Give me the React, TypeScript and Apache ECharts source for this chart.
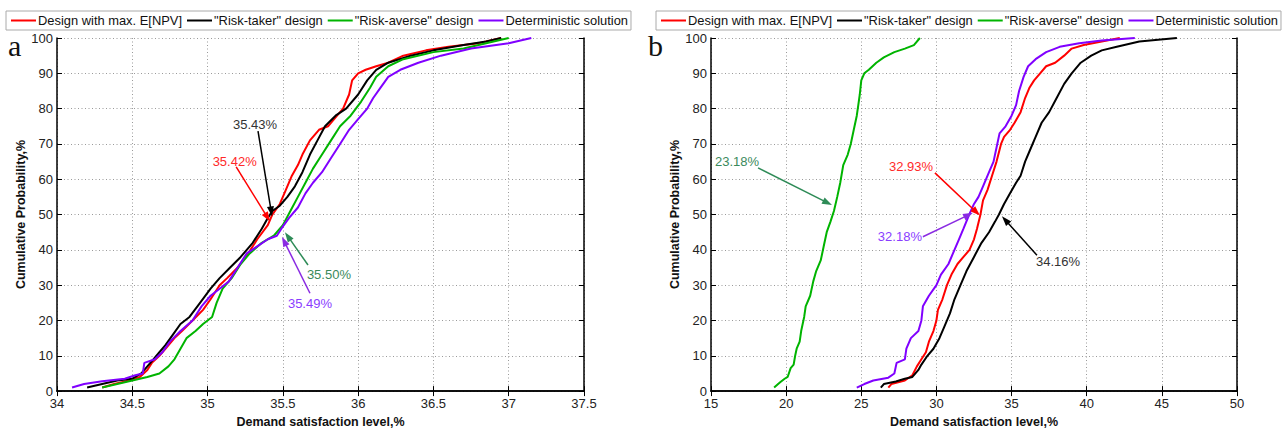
import React, { useEffect, useRef } from 'react';
import * as echarts from 'echarts';

const seriesNames = ['Design with max. E[NPV]', '"Risk-taker" design', '"Risk-averse" design', 'Deterministic solution'];
const seriesColors = ['#ff0000', '#000000', '#00b400', '#8000ff'];

const aXAxis = { min: 34, max: 37.5, interval: 0.5 };
const bXAxis = { min: 15, max: 50, interval: 5 };
const probAxis = { min: 0, max: 100, interval: 10 };

// Panel a: [demand satisfaction level %, cumulative probability %]
const aMaxNpv = [[34.3,1],[34.38,2],[34.48,3],[34.55,4],[34.6,6],[34.63,8],[34.68,10],[34.72,12],[34.78,15],[34.83,17],[34.9,20],[34.97,23],[35.02,26],[35.08,30],[35.13,32],[35.2,35],[35.27,39],[35.33,43],[35.4,47],[35.43,50],[35.48,53],[35.52,57],[35.56,61],[35.6,64],[35.63,67],[35.68,71],[35.74,74],[35.8,75],[35.86,78],[35.9,80],[35.94,84],[35.96,88],[36.0,90],[36.05,91],[36.12,92],[36.2,93],[36.3,95],[36.45,96.5],[36.6,97.5],[36.8,98.5],[36.95,100]];
const aRiskTaker = [[34.2,1],[34.3,2],[34.4,3],[34.5,3.5],[34.56,5],[34.6,7],[34.64,9],[34.68,11],[34.72,13],[34.77,16],[34.82,19],[34.88,21],[34.95,25],[35.02,29],[35.08,32],[35.15,35],[35.22,38],[35.3,42],[35.36,46],[35.4,49],[35.43,51],[35.48,52.5],[35.53,55],[35.58,58],[35.63,62],[35.68,67],[35.73,71],[35.78,75],[35.85,78],[35.92,80],[36.0,84],[36.06,88],[36.12,91],[36.2,93],[36.35,95],[36.5,96.5],[36.7,98],[36.85,99],[36.95,100]];
const aRiskAverse = [[34.3,1],[34.4,2],[34.5,3],[34.6,4],[34.68,5],[34.74,7],[34.78,9],[34.82,12],[34.86,15],[34.92,17],[34.97,19],[35.03,21],[35.06,25],[35.1,29],[35.16,32],[35.22,36],[35.28,39],[35.36,42],[35.44,44],[35.5,47],[35.55,51],[35.6,55],[35.65,59],[35.7,63],[35.76,67],[35.82,71],[35.88,75],[35.95,78],[36.02,82],[36.08,86],[36.12,89],[36.2,92],[36.3,94],[36.5,96],[36.7,97],[36.85,98.5],[37.0,100]];
const aDeterministic = [[34.1,1],[34.18,2],[34.3,2.8],[34.45,3.5],[34.52,4.5],[34.57,5],[34.58,8],[34.65,9],[34.7,11],[34.75,14],[34.82,17],[34.9,20],[34.96,24],[35.02,27],[35.08,29],[35.14,31],[35.2,35],[35.26,39],[35.33,41],[35.4,43],[35.46,44],[35.49,46],[35.54,49],[35.6,52],[35.65,56],[35.7,59],[35.76,62],[35.82,66],[35.88,70],[35.94,74],[36.0,77],[36.06,80],[36.1,83],[36.15,86],[36.2,89],[36.28,91],[36.4,93],[36.55,95],[36.75,97],[37.0,98.5],[37.15,100]];

// Panel b
const bMaxNpv = [[26.8,1],[27.0,2],[27.9,3],[28.4,4.5],[28.7,7],[29.0,9],[29.3,11],[29.5,14],[29.8,17],[30.0,20],[30.1,23],[30.4,26],[30.7,30],[31.0,33],[31.4,36],[31.8,38],[32.2,40],[32.5,43],[32.7,46],[32.93,50],[33.1,54],[33.4,57],[33.7,61],[34.0,65],[34.3,70],[34.5,72],[34.9,74],[35.2,76],[35.6,79],[35.9,83],[36.2,86],[36.5,88],[36.9,90],[37.3,92],[37.9,93],[38.5,95],[39.0,97],[39.8,98],[41.0,99],[42.2,100]];
const bRiskTaker = [[26.3,1],[26.5,2],[27.3,2.7],[27.9,3.5],[28.4,4],[28.8,6],[29.0,7.5],[29.4,10],[29.8,12],[30.2,15],[30.5,18],[30.9,22],[31.2,26],[31.6,30],[32.0,34],[32.5,38],[33.0,42],[33.5,45],[33.9,48],[34.16,50],[34.5,53],[34.9,56],[35.3,59],[35.6,61],[35.9,65],[36.2,68],[36.6,72],[37.0,76],[37.5,79],[38.0,83],[38.5,87],[39.0,90],[39.6,93],[40.3,95],[41.0,96.5],[42.0,97.5],[43.5,99],[46.0,100]];
const bRiskAverse = [[19.2,1],[19.6,2.5],[19.9,3.5],[20.1,4],[20.3,6.5],[20.5,7.5],[20.6,10],[20.7,12],[20.9,14],[21.0,17],[21.2,21],[21.3,24],[21.6,27],[21.8,31],[22.0,34],[22.3,37],[22.5,41],[22.7,45],[22.95,48],[23.18,51],[23.4,55],[23.6,59],[23.8,64],[24.1,67],[24.3,70],[24.5,74],[24.7,78],[24.8,81],[24.9,84],[25.0,88],[25.2,90],[25.5,91],[26.0,93],[26.5,94.5],[27.2,96],[27.9,97],[28.5,98],[28.9,100]];
const bDeterministic = [[24.7,1],[25.2,2],[25.8,3],[26.8,3.8],[27.2,5],[27.35,8],[27.9,9],[28.0,12],[28.3,15],[28.8,17],[29.0,20],[29.1,24],[29.5,27],[30.0,30],[30.3,33],[30.8,36],[31.2,40],[31.5,43],[31.8,46],[32.18,50],[32.5,53],[32.8,55],[33.1,58],[33.5,62],[33.8,65],[34.0,69],[34.2,73],[34.6,75],[35.0,78],[35.3,81],[35.5,85],[35.8,89],[36.1,92],[36.6,94],[37.3,96],[38.2,97.5],[39.5,98.5],[41.0,99.3],[43.2,100]];

const aSeries = [aMaxNpv, aRiskTaker, aRiskAverse, aDeterministic];
const bSeries = [bMaxNpv, bRiskTaker, bRiskAverse, bDeterministic];

// Annotations: text position, arrow start, arrow tip (data coordinates)
const aAnnotations = [
  { text: '35.43%', color: '#333333', arrow: '#000000', at: [35.315, 75.5], from: [35.335, 73.6], to: [35.428, 49.5] },
  { text: '35.42%', color: '#ff2a2a', arrow: '#ff0000', at: [35.18, 65.1], from: [35.19, 63.5], to: [35.415, 48] },
  { text: '35.50%', color: '#3a8a5c', arrow: '#2e8b57', at: [35.806, 33], from: [35.667, 35.7], to: [35.514, 45] },
  { text: '35.49%', color: '#8a3dff', arrow: '#8a2be2', at: [35.68, 24.7], from: [35.68, 27.7], to: [35.494, 43.7] },
];
const bAnnotations = [
  { text: '23.18%', color: '#3a8a5c', arrow: '#2e8b57', at: [16.73, 65.1], from: [18.13, 63.2], to: [23.05, 52.7] },
  { text: '32.93%', color: '#ff2a2a', arrow: '#ff0000', at: [28.31, 63.7], from: [29.9, 61.8], to: [32.9, 49.7] },
  { text: '32.18%', color: '#8a3dff', arrow: '#8a2be2', at: [27.57, 43.7], from: [29.1, 43.7], to: [32.43, 50.5] },
  { text: '34.16%', color: '#333333', arrow: '#000000', at: [38.09, 36.8], from: [36.69, 38.5], to: [34.36, 49.5] },
];

const FONT = '"Liberation Sans", Arial, Helvetica, sans-serif';

function xAxes(gridIndex: number, r: { min: number; max: number; interval: number }) {
  const common = {
    gridIndex, type: 'value', min: r.min, max: r.max, interval: r.interval,
    axisLine: { show: true, lineStyle: { color: '#000', width: 1.5 } },
    axisTick: { show: true, inside: true, length: 5, lineStyle: { color: '#000' } },
  };
  return [
    {
      ...common, position: 'bottom',
      name: 'Demand satisfaction level,%', nameLocation: 'middle', nameGap: 19,
      nameTextStyle: { fontFamily: FONT, fontSize: 12.5, fontWeight: 'bold', color: '#111' },
      axisLabel: { fontFamily: FONT, fontSize: 13, color: '#222', margin: 6 },
      splitLine: { show: true, lineStyle: { type: [1, 2.5], color: '#9a9a9a', width: 1 } },
    },
    { ...common, position: 'top', axisLabel: { show: false }, splitLine: { show: false } },
  ];
}

function yAxes(gridIndex: number) {
  const common = {
    gridIndex, type: 'value', min: probAxis.min, max: probAxis.max, interval: probAxis.interval,
    axisLine: { show: true, lineStyle: { color: '#000', width: 1.5 } },
    axisTick: { show: true, inside: true, length: 5, lineStyle: { color: '#000' } },
  };
  return [
    {
      ...common, position: 'left',
      name: 'Cumulative Probability,%', nameLocation: 'middle', nameGap: 29,
      nameTextStyle: { fontFamily: FONT, fontSize: 12.5, fontWeight: 'bold', color: '#111' },
      axisLabel: { fontFamily: FONT, fontSize: 13, color: '#222', margin: 4 },
      splitLine: { show: true, lineStyle: { type: [1, 2.5], color: '#9a9a9a', width: 1 } },
    },
    { ...common, position: 'right', axisLabel: { show: false }, splitLine: { show: false } },
  ];
}

function legend(left: number) {
  return {
    left, top: 11, width: 660, orient: 'horizontal', icon: 'rect', itemWidth: 25, itemHeight: 2, itemGap: 5,
    padding: [3, 3, 3, 5], borderColor: '#aaa', borderWidth: 1, backgroundColor: '#fff',
    textStyle: { fontFamily: FONT, fontSize: 12.9, color: '#111', padding: [0, 0, 0, -3] },
    data: seriesNames, selectedMode: false,
  };
}

export default function App() {
  const ref = useRef<HTMLDivElement>(null);
  useEffect(() => {
    document.body.style.margin = '0';
    if (!ref.current) return;
    const chart = echarts.init(ref.current, null, { renderer: 'svg' });
    const series: any[] = [];
    [aSeries, bSeries].forEach((group, gi) => {
      group.forEach((data, i) => {
        series.push({
          name: seriesNames[i], type: 'line', data, xAxisIndex: gi * 2, yAxisIndex: gi * 2,
          showSymbol: false, symbol: 'none', lineStyle: { width: 2, color: seriesColors[i] },
          itemStyle: { color: seriesColors[i] }, z: 3, silent: true,
        });
      });
    });
    chart.setOption({
      animation: false,
      backgroundColor: '#fff',
      grid: [
        { left: 57, top: 38, width: 527, height: 364, containLabel: false },
        { left: 711, top: 38, width: 526, height: 364, containLabel: false },
      ],
      legend: [legend(6), legend(656)],
      xAxis: [...xAxes(0, aXAxis), ...xAxes(1, bXAxis)],
      yAxis: [...yAxes(0), ...yAxes(1)],
      series,
    });

    const graphics: any[] = [
      { type: 'text', left: 8, top: 30, style: { text: 'a', fontFamily: '"Liberation Serif", "DejaVu Serif", serif', fontSize: 30, fill: '#111' } },
      { type: 'text', left: 648, top: 30, style: { text: 'b', fontFamily: '"Liberation Serif", "DejaVu Serif", serif', fontSize: 30, fill: '#111' } },
    ];
    [aAnnotations, bAnnotations].forEach((list, gi) => {
      list.forEach((a) => {
        const t = chart.convertToPixel({ gridIndex: gi } as any, a.at) as number[];
        const f = chart.convertToPixel({ gridIndex: gi } as any, a.from) as number[];
        const p = chart.convertToPixel({ gridIndex: gi } as any, a.to) as number[];
        const dx = p[0] - f[0], dy = p[1] - f[1];
        const len = Math.sqrt(dx * dx + dy * dy) || 1;
        const ux = dx / len, uy = dy / len;
        const nx = -uy, ny = ux;
        const L = 10, W = 3.5;
        graphics.push({
          type: 'line', z: 10,
          shape: { x1: f[0], y1: f[1], x2: p[0] - ux * L * 0.7, y2: p[1] - uy * L * 0.7 },
          style: { stroke: a.arrow, lineWidth: 1.5 },
        });
        graphics.push({
          type: 'polygon', z: 10,
          shape: { points: [[p[0], p[1]], [p[0] - ux * L + nx * W, p[1] - uy * L + ny * W], [p[0] - ux * L - nx * W, p[1] - uy * L - ny * W]] },
          style: { fill: a.arrow },
        });
        graphics.push({
          type: 'text', z: 11, x: t[0], y: t[1],
          style: { text: a.text, fill: a.color, fontFamily: FONT, fontSize: 13, align: 'center', verticalAlign: 'middle' },
        });
      });
    });
    chart.setOption({ graphic: graphics });
    return () => chart.dispose();
  }, []);
  return <div ref={ref} style={{ width: 1286, height: 433 }} />;
}
